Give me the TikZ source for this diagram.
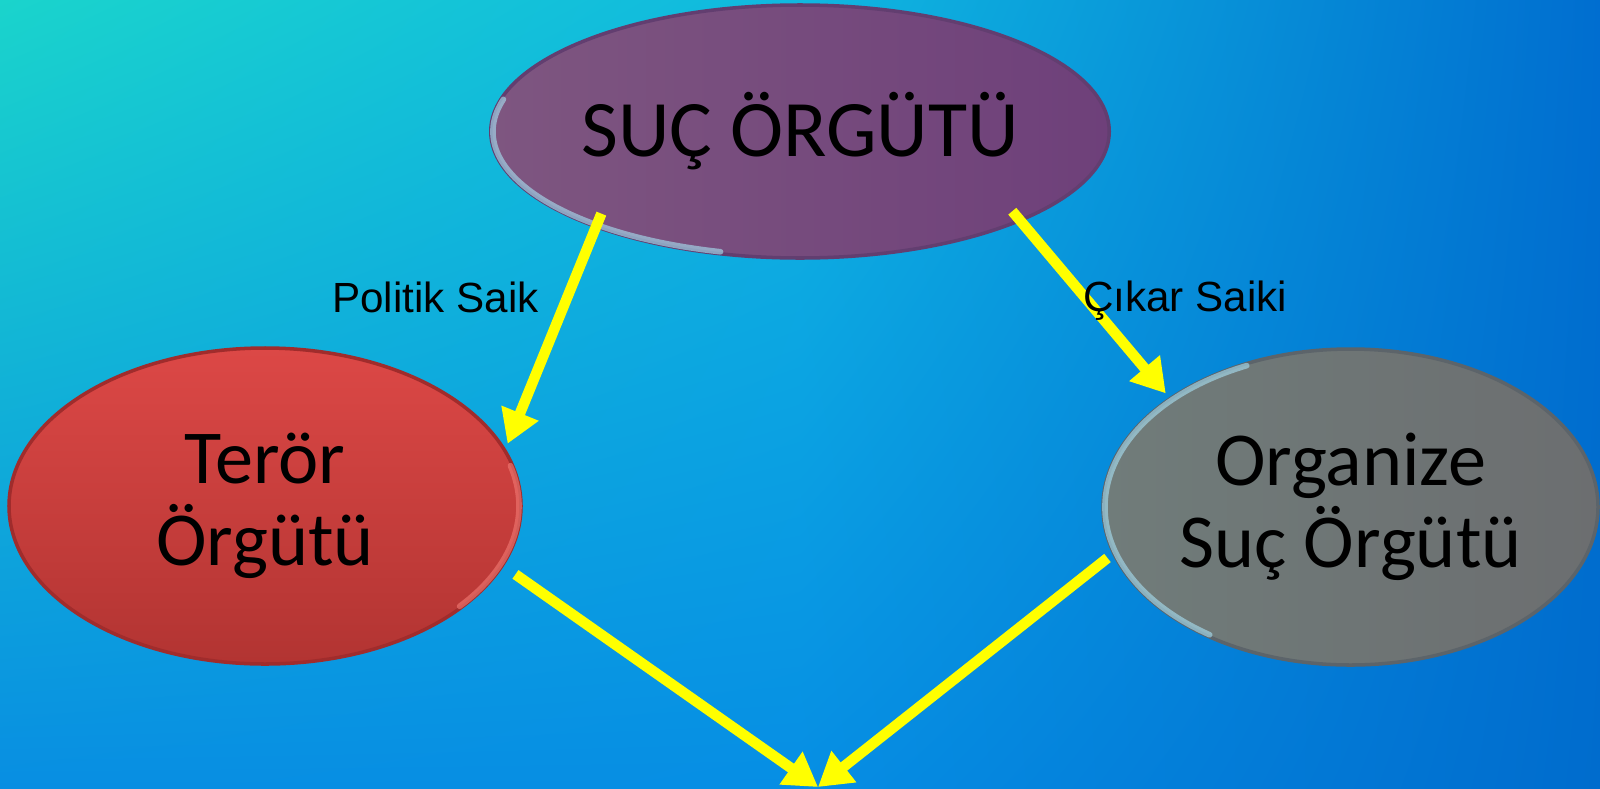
\documentclass[tikz,border=0pt]{standalone}
\usepackage{fontspec}
\setmainfont{Carlito}
\newfontfamily\labelfont{Liberation Sans}
\usetikzlibrary{shapes.geometric,arrows.meta,shadings}

\definecolor{bgTL}{RGB}{26,212,204}
\definecolor{bgBL}{RGB}{8,142,226}
\definecolor{bgTM}{RGB}{16,184,224}
\definecolor{bgBM}{RGB}{6,142,228}
\definecolor{bgTR}{RGB}{0,110,208}
\definecolor{bgBR}{RGB}{0,108,205}
\definecolor{sucL}{RGB}{126,86,128}
\definecolor{sucR}{RGB}{110,64,122}
\definecolor{sucRim}{RGB}{98,62,112}
\definecolor{terT}{RGB}{220,72,70}
\definecolor{terB}{RGB}{178,52,50}
\definecolor{terRim}{RGB}{160,44,44}
\definecolor{orgL}{RGB}{112,124,122}
\definecolor{orgR}{RGB}{108,110,112}
\definecolor{orgRim}{RGB}{92,100,106}
\definecolor{rimBlue}{RGB}{165,218,236}
\definecolor{rimPink}{RGB}{238,118,112}
\definecolor{arrowyellow}{RGB}{255,255,0}

\begin{document}
\begin{tikzpicture}[
    blob/.style={ellipse, inner sep=0pt, outer sep=0pt, align=center,
        font=\fontsize{21.7}{23.5}\selectfont, text=black, line width=1pt},
    link/.style={draw=arrowyellow, line width=0.105cm,
        -{Triangle[width=0.38cm,length=0.33cm]}},
    lbl/.style={font=\labelfont\fontsize{12}{14}\selectfont, anchor=base},
    rim/.style={line width=1.6pt, line cap=round, opacity=0.65}
]
    \useasboundingbox (0,0) rectangle (16,-7.88);
    % background
    \shade[upper left=bgTL, lower left=bgBL, upper right=bgTM, lower right=bgBM]
        (0,0) rectangle (8.01,-7.88);
    \shade[upper left=bgTM, lower left=bgBM, upper right=bgTR, lower right=bgBR]
        (8,0) rectangle (16,-7.88);

    % ellipses
    \node[blob, minimum width=6.18cm, minimum height=2.53cm, font=\fontsize{22.8}{24}\selectfont,
        left color=sucL, right color=sucR, draw=sucRim] (suc) at (8.00,-1.315) {SUÇ ÖRGÜTÜ};
    \node[blob, minimum width=5.12cm, minimum height=3.16cm,
        top color=terT, bottom color=terB, draw=terRim] (teror) at (2.65,-5.06) {Terör\\Örgütü};
    \node[blob, minimum width=4.95cm, minimum height=3.16cm,
        left color=orgL, right color=orgR, draw=orgRim] (organize) at (13.505,-5.07) {Organize\\Suç Örgütü};

    % bevel highlights
    \draw[rim, rimBlue] ([shift={(165:3.07 and 1.245)}]suc.center)
        arc[start angle=165, end angle=255, x radius=3.07, y radius=1.245];
    \draw[rim, rimPink] ([shift={(-40:2.54 and 1.56)}]teror.center)
        arc[start angle=-40, end angle=15, x radius=2.54, y radius=1.56];
    \draw[rim, rimBlue] ([shift={(115:2.455 and 1.56)}]organize.center)
        arc[start angle=115, end angle=235, x radius=2.455, y radius=1.56];

    \coordinate (meet) at (8.18,-7.87);

    % arrows
    \draw[link, shorten <=-0.14cm, shorten >=0.075cm] (suc.205.6) -- (teror.13.7);
    \draw[link, shorten <=-0.12cm, shorten >=0.07cm] (suc.338.2) -- (organize.149.3);
    \draw[link, shorten <=0.16cm] (teror.346.1) -- (meet);
    \draw[link, shorten <=0.08cm] (organize.191.3) -- (meet);

    % labels
    \node[lbl] (politik) at (4.355,-3.12) {Politik Saik};
    \node[lbl] (cikar) at (11.85,-3.11) {Çıkar Saiki};
\end{tikzpicture}
\end{document}
